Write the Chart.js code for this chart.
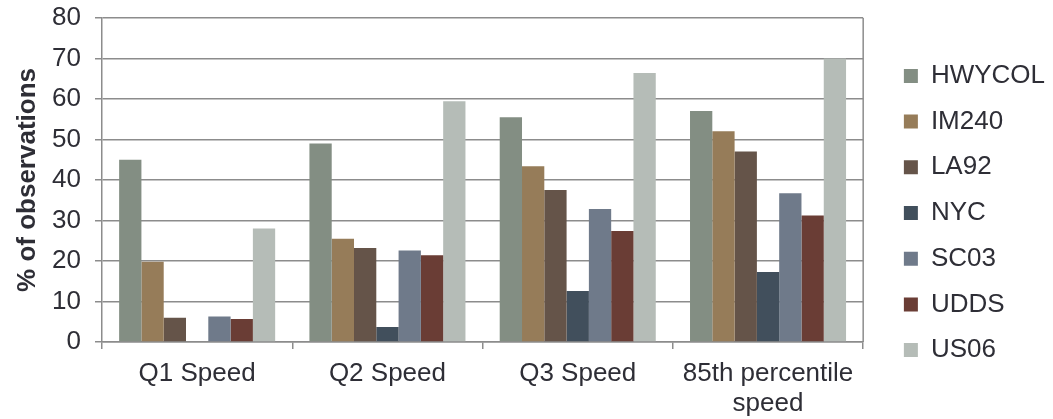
<!DOCTYPE html>
<html>
<head>
<meta charset="utf-8">
<script src="https://cdn.jsdelivr.net/npm/chart.js@4.4.1/dist/chart.umd.min.js"></script>
<style>
  html, body { margin: 0; padding: 0; background: #fff; }
  #wrap { width: 1053px; height: 419px; }
</style>
</head>
<body>
<div id="wrap"><canvas id="speedChart" width="1053" height="419"></canvas></div>
<script>
// categories and series
const categories = ["Q1 Speed", "Q2 Speed", "Q3 Speed", ["85th percentile", "speed"]];
const cycles = ["HWYCOL", "IM240", "LA92", "NYC", "SC03", "UDDS", "US06"];
const hwycol = [45, 49, 55.5, 57];
const im240 = [19.8, 25.5, 43.4, 52];
const la92 = [6, 23.2, 37.5, 47];
const nyc = [0, 3.7, 12.6, 17.3];
const sc03 = [6.3, 22.6, 32.8, 36.7];
const udds = [5.7, 21.4, 27.4, 31.2];
const us06 = [28, 59.4, 66.4, 70];
const yTicks = [0, 10, 20, 30, 40, 50, 60, 70, 80];

const seriesValues = [hwycol, im240, la92, nyc, sc03, udds, us06];
const colors = ["#838e83", "#967c59", "#655449", "#414f5c", "#6f7a8a", "#6a3d35", "#b5bcb7"];

const gridGray = "#8c8c8c";
const textColor = "#2e2e36";
const family = "'Liberation Sans', Arial, sans-serif";
const font = { family: family, size: 26, lineHeight: 1.15 };

// right-hand border of the plot area
const plotBorder = {
  id: "plotBorder",
  afterDatasetsDraw(chart) {
    const { ctx, chartArea } = chart;
    ctx.save();
    ctx.strokeStyle = gridGray;
    ctx.lineWidth = 1.5;
    ctx.beginPath();
    ctx.moveTo(chartArea.right, chartArea.top);
    ctx.lineTo(chartArea.right, chartArea.bottom);
    ctx.stroke();
    ctx.restore();
  }
};

// leave a wider gap between the plot and the legend
const legendGap = {
  id: "legendGap",
  beforeLayout(chart) {
    const legend = chart.legend;
    if (!legend || legend._gapPatched) return;
    const fit = legend.fit;
    legend.fit = function () {
      fit.call(this);
      this.width += 16;
    };
    legend._gapPatched = true;
  },
  afterLayout(chart) {
    const legend = chart.legend;
    legend.left += 21;
    legend.right += 21;
    legend.top += 2;
    legend.bottom += 2;
  }
};

new Chart(document.getElementById("speedChart"), {
  type: "bar",
  data: {
    labels: categories,
    datasets: cycles.map((name, i) => ({
      label: name,
      data: seriesValues[i],
      backgroundColor: colors[i],
      borderWidth: 0,
      categoryPercentage: 0.82,
      barPercentage: 1
    }))
  },
  options: {
    responsive: false,
    animation: false,
    layout: { padding: { top: 3, right: 3, left: 0, bottom: 0 } },
    plugins: {
      legend: {
        position: "right",
        labels: {
          color: textColor,
          font: font,
          boxWidth: 14,
          boxHeight: 14,
          padding: 19.7
        }
      },
      tooltip: { enabled: false }
    },
    scales: {
      x: {
        afterFit(scale) {
          scale.height = 77;
        },
        grid: {
          offset: true,
          drawOnChartArea: false,
          drawTicks: true,
          tickLength: 7,
          color: gridGray,
          lineWidth: 1.5
        },
        border: { color: gridGray, width: 1.5 },
        ticks: { color: textColor, font: font, padding: 9.5, maxRotation: 0 }
      },
      y: {
        min: 0,
        max: 80,
        afterBuildTicks(axis) {
          axis.ticks = yTicks.map(v => ({ value: v }));
        },
        afterFit(scale) {
          scale.width = 102;
        },
        grid: { color: gridGray, lineWidth: 1.5, tickLength: 7 },
        border: { color: gridGray, width: 1.5 },
        ticks: { color: textColor, font: { family: family, size: 26, lineHeight: 0.3 }, padding: 14 },
        title: {
          display: true,
          text: "% of observations",
          color: textColor,
          font: { family: family, size: 26, weight: "bold", lineHeight: 1.15 },
          padding: { top: 13, bottom: 0 }
        }
      }
    }
  },
  plugins: [plotBorder, legendGap]
});
</script>
</body>
</html>
